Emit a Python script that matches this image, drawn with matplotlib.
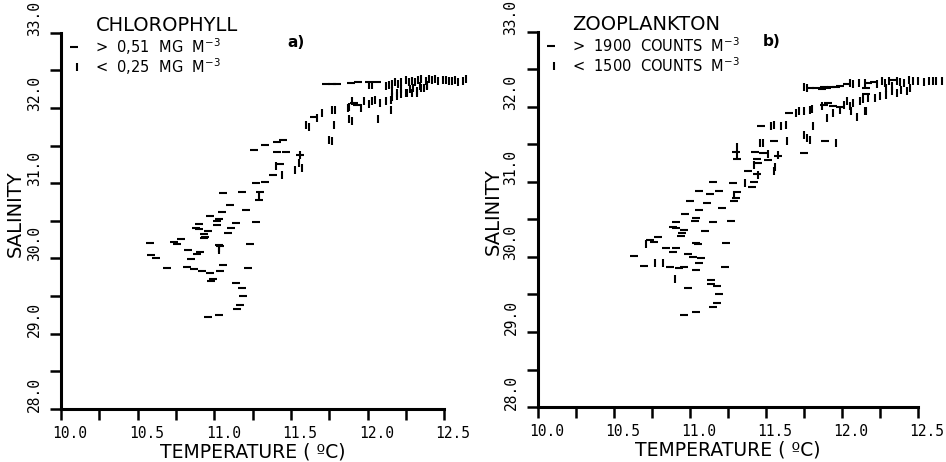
import matplotlib
matplotlib.use("Agg")
import matplotlib.pyplot as plt
import matplotlib.transforms as mtransforms
import numpy as np

plt.rcParams['font.family'] = ['DejaVu Sans']

# temperatura (C), salinidad
chl_high = [(11.41, 31.42), (11.47, 31.42), (11.56, 31.37), (11.43, 31.25), (11.38, 31.11),
            (11.27, 31.00), (11.33, 31.01), (11.06, 30.87), (11.18, 30.88), (11.30, 30.88),
            (11.29, 30.78), (11.10, 30.71), (11.21, 30.65), (11.05, 30.62), (10.97, 30.57),
            (11.03, 30.52), (11.02, 30.50), (11.14, 30.47), (11.27, 30.49), (10.90, 30.46),
            (11.02, 30.45), (10.88, 30.40), (10.90, 30.39), (11.11, 30.40), (10.96, 30.37),
            (11.09, 30.34), (10.93, 30.33), (10.94, 30.29), (10.93, 30.27), (10.78, 30.26),
            (10.58, 30.20), (10.74, 30.22), (10.76, 30.19), (11.03, 30.18), (11.04, 30.17),
            (11.23, 30.19), (10.83, 30.11), (10.91, 30.09), (10.89, 30.06), (10.59, 30.04),
            (10.62, 30.01), (10.85, 29.99), (10.69, 29.87), (10.82, 29.88), (10.87, 29.86),
            (10.92, 29.83), (10.97, 29.81), (11.04, 29.83), (11.06, 29.91), (11.22, 29.87),
            (10.99, 29.73), (10.98, 29.70), (11.14, 29.68), (11.18, 29.61), (11.19, 29.50),
            (11.17, 29.38), (11.15, 29.33), (10.96, 29.22), (11.03, 29.25),
            (11.26, 31.44), (11.33, 31.51), (11.41, 31.55), (11.45, 31.58), (11.65, 31.88),
            (11.73, 32.32), (11.77, 32.32), (11.80, 32.32), (11.89, 32.33), (11.94, 32.35),
            (12.01, 32.34), (12.06, 32.34), (11.91, 32.07), (11.93, 32.04)]

chl_low = [(11.56, 31.37), (11.40, 31.23), (11.55, 31.27), (11.57, 31.20), (11.53, 31.18),
           (11.44, 31.11), (11.29, 30.82), (11.03, 30.11), (11.03, 30.14),
           (11.60, 31.78), (11.62, 31.75), (11.67, 31.87), (11.70, 31.93), (11.77, 31.98),
           (11.78, 31.78), (11.75, 31.58), (11.77, 31.56), (11.79, 31.98), (11.87, 32.00),
           (11.88, 32.02), (11.90, 32.09), (11.88, 31.85), (11.90, 31.83), (11.96, 32.00),
           (11.98, 32.09), (12.01, 32.05), (12.03, 32.09), (12.05, 32.11), (12.07, 31.85),
           (12.08, 32.07), (12.12, 32.09), (12.15, 32.11), (12.15, 31.98), (12.16, 32.15),
           (12.19, 32.16), (12.22, 32.18), (12.25, 32.20), (12.29, 32.20), (12.32, 32.20),
           (12.35, 32.26), (12.39, 32.29),
           (12.12, 32.29), (12.14, 32.30), (12.16, 32.32), (12.18, 32.34), (12.20, 32.32),
           (12.22, 32.35), (12.25, 32.37), (12.27, 32.34), (12.29, 32.36), (12.31, 32.34),
           (12.33, 32.37), (12.35, 32.38), (12.38, 32.36), (12.40, 32.39), (12.42, 32.37),
           (12.44, 32.38), (12.46, 32.36), (12.49, 32.37), (12.51, 32.37), (12.53, 32.36),
           (12.55, 32.36), (12.57, 32.37), (12.59, 32.35), (12.62, 32.36), (12.64, 32.38),
           (12.16, 32.22), (12.19, 32.20), (12.22, 32.25), (12.26, 32.20), (12.28, 32.25),
           (12.30, 32.27), (12.32, 32.22), (12.34, 32.29), (12.37, 32.27), (12.39, 32.31),
           (12.01, 32.30), (12.03, 32.31)]

zoo_high = [(11.30, 31.40), (11.43, 31.40), (11.48, 31.38), (11.58, 31.34), (11.75, 31.39),
            (11.31, 31.30), (11.44, 31.30), (11.51, 31.29), (11.45, 31.25), (11.38, 31.15),
            (11.44, 31.11), (11.15, 31.00), (11.28, 30.99), (11.42, 31.00), (11.41, 30.93),
            (11.06, 30.88), (11.13, 30.84), (11.19, 30.88), (11.31, 30.87), (11.30, 30.78),
            (11.29, 30.74), (11.00, 30.75), (11.11, 30.72), (11.21, 30.65), (11.06, 30.62),
            (10.97, 30.57), (11.04, 30.52), (11.03, 30.48), (11.15, 30.47), (11.27, 30.48),
            (10.91, 30.46), (10.89, 30.40), (10.91, 30.38), (10.96, 30.36), (11.10, 30.35),
            (10.95, 30.32), (10.94, 30.28), (10.79, 30.26), (10.74, 30.23), (10.76, 30.20),
            (11.04, 30.18), (11.05, 30.17), (11.24, 30.18), (10.84, 30.12), (10.91, 30.12),
            (10.89, 30.07), (10.63, 30.01), (10.99, 30.04), (11.02, 30.00), (11.07, 29.98),
            (11.06, 29.92), (10.70, 29.88), (10.87, 29.86), (10.93, 29.85), (10.96, 29.86),
            (11.04, 29.83), (11.23, 29.87), (11.14, 29.69), (11.14, 29.64), (11.18, 29.61),
            (10.99, 29.59), (11.19, 29.50), (11.18, 29.38), (11.15, 29.33), (10.96, 29.22),
            (11.04, 29.26),
            (11.47, 31.74), (11.55, 31.54), (11.65, 31.92), (11.89, 31.54), (11.79, 32.25),
            (11.83, 32.25), (11.87, 32.24), (11.88, 32.26), (11.90, 32.25), (11.93, 32.26),
            (11.96, 32.27), (11.99, 32.28), (12.03, 32.30), (12.16, 32.25), (12.17, 32.32),
            (12.21, 32.33), (12.34, 32.36), (11.88, 32.03), (11.91, 32.05), (11.94, 32.01),
            (11.99, 32.00), (12.16, 32.17)]

zoo_low = [(11.51, 31.37), (11.58, 31.36), (11.42, 31.22), (11.56, 31.20), (11.55, 31.15),
           (11.45, 31.09), (11.36, 30.98), (11.29, 30.83), (10.71, 30.17), (10.77, 29.92),
           (10.82, 29.92), (10.90, 29.70), (11.31, 31.47), (11.31, 31.36),
           (11.46, 31.52), (11.48, 31.52), (11.53, 31.74), (11.55, 31.76), (11.60, 31.74),
           (11.63, 31.76), (11.64, 31.54), (11.70, 31.92), (11.72, 31.94), (11.75, 31.63),
           (11.77, 31.59), (11.79, 31.56), (11.80, 31.97), (11.81, 31.74), (11.96, 31.52),
           (11.75, 31.94), (11.79, 31.96), (11.87, 32.01), (11.90, 31.85), (11.94, 31.92),
           (11.99, 31.96), (12.01, 32.03), (12.03, 32.08), (12.05, 32.01), (12.06, 31.94),
           (12.07, 32.05), (12.10, 31.87), (12.12, 32.08), (12.14, 32.10), (12.15, 31.94),
           (12.16, 31.94), (12.17, 32.12), (12.22, 32.12), (12.25, 32.14), (12.29, 32.16),
           (12.33, 32.21), (12.36, 32.19), (12.39, 32.23), (12.43, 32.21), (12.45, 32.25),
           (11.75, 32.26), (11.77, 32.25), (12.05, 32.32), (12.07, 32.30), (12.11, 32.32),
           (12.15, 32.32), (12.23, 32.31), (12.26, 32.34), (12.28, 32.32), (12.31, 32.34),
           (12.36, 32.34), (12.38, 32.33), (12.41, 32.32), (12.44, 32.36), (12.47, 32.34),
           (12.50, 32.34), (12.54, 32.33), (12.57, 32.34), (12.60, 32.35), (12.62, 32.34),
           (12.66, 32.35), (12.29, 32.25), (12.33, 32.28)]

x_ticks = [10.0, 10.5, 11.0, 11.5, 12.0, 12.5]
y_ticks = [28.0, 29.0, 30.0, 31.0, 32.0, 33.0]


def panel(ax, high, low, titulo, txt_high, txt_low, letra):
    high = np.array(high)
    low = np.array(low)
    ax.plot(high[:, 0], high[:, 1], ls='none', marker='_', ms=6, mew=1.5,
            color='k', clip_on=False)
    ax.plot(low[:, 0], low[:, 1], ls='none', marker='|', ms=6, mew=1.5,
            color='k', clip_on=False)

    ax.set_xlim(10, 12.5)
    ax.set_ylim(28, 33)
    for s in ['top', 'right']:
        ax.spines[s].set_visible(False)
    for s in ['left', 'bottom']:
        ax.spines[s].set_linewidth(2.2)

    ax.set_xticks(x_ticks, ['%.1f' % v for v in x_ticks],
                  fontfamily='DejaVu Sans Mono', fontsize=10.5)
    ax.set_xticks(np.arange(10.25, 12.5, 0.5), minor=True)
    ax.set_yticks(y_ticks, ['%.1f' % v for v in y_ticks],
                  fontfamily='DejaVu Sans Mono', fontsize=10.5,
                  rotation=90, va='bottom')
    ax.set_yticks(np.arange(28.5, 33, 1.0), minor=True)
    ax.tick_params(which='both', direction='out', length=8, width=1.8)
    ax.tick_params(axis='x', pad=4)
    ax.tick_params(axis='y', pad=6)

    off = mtransforms.ScaledTranslation(9 / 100, 0, ax.figure.dpi_scale_trans)
    for lab in ax.get_xticklabels():
        lab.set_transform(lab.get_transform() + off)
    offy = mtransforms.ScaledTranslation(0, -3 / 100, ax.figure.dpi_scale_trans)
    for lab in ax.get_yticklabels():
        lab.set_transform(lab.get_transform() + offy)

    ax.set_xlabel('TEMPERATURE ( ºC)', fontsize=13.5)
    ax.xaxis.set_label_coords(0.5, -0.089)
    ax.set_ylabel('SALINITY', fontsize=14)
    ax.yaxis.set_label_coords(-0.094, 0.52)

    # leyenda a mano
    ax.text(0.09, 1.02, titulo, transform=ax.transAxes, fontsize=14,
            va='center', ha='left')
    ax.plot([0.035], [0.962], transform=ax.transAxes, marker='_', ms=6,
            mew=1.5, color='k', clip_on=False)
    ax.plot([0.043], [0.910], transform=ax.transAxes, marker='|', ms=6,
            mew=1.5, color='k', clip_on=False)
    ax.text(0.09, 0.962, txt_high, transform=ax.transAxes, fontsize=10.5,
            va='center', ha='left')
    ax.text(0.09, 0.910, txt_low, transform=ax.transAxes, fontsize=10.5,
            va='center', ha='left')
    ax.text(0.592, 0.975, letra, transform=ax.transAxes, fontsize=11,
            fontweight='bold', va='center', ha='left')


fig = plt.figure(figsize=(9.46, 4.62), dpi=100)
ax1 = fig.add_axes([0.0645, 0.115, 0.405, 0.814])
ax2 = fig.add_axes([0.5687, 0.119, 0.4017, 0.812])

panel(ax1, chl_high, chl_low, 'CHLOROPHYLL',
      '>  0,51  MG  M$^{-3}$', '<  0,25  MG  M$^{-3}$', 'a)')
panel(ax2, zoo_high, zoo_low, 'ZOOPLANKTON',
      '>  1900  COUNTS  M$^{-3}$', '<  1500  COUNTS  M$^{-3}$', 'b)')

fig.savefig('out.png', dpi=100)
